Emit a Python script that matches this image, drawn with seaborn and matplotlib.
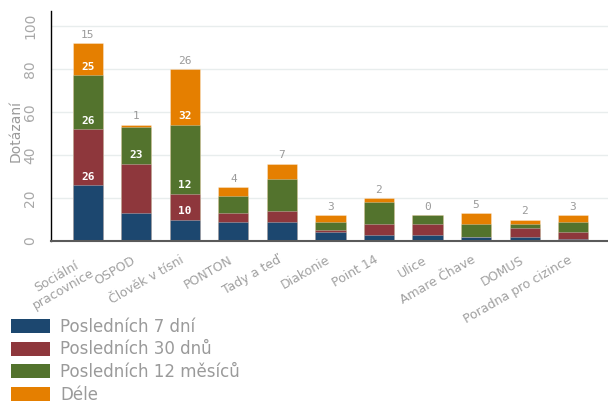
import numpy as np
import pandas as pd
import matplotlib
matplotlib.use("Agg")
import matplotlib.pyplot as plt
import matplotlib.transforms as mtransforms
from matplotlib.patches import Patch
import seaborn as sns

# ---------------- data ----------------
categories = ["Sociální\npracovnice", "OSPOD", "Člověk v tísni", "PONTON", "Tady a teď",
              "Diakonie", "Point 14", "Ulice", "Amare Čhave", "DOMUS", "Poradna pro cizince"]
series_names = ["Posledních 7 dní", "Posledních 30 dnů", "Posledních 12 měsíců", "Déle"]
last_7_days = [26, 13, 10, 9, 9, 4, 3, 3, 2, 2, 1]
last_30_days = [26, 23, 12, 4, 5, 1, 5, 5, 0, 4, 3]
last_12_months = [25, 17, 32, 8, 15, 4, 10, 4, 6, 2, 5]
longer = [15, 1, 26, 4, 7, 3, 2, 0, 5, 2, 3]
# which segment values are printed (inner labels sit just above their segment)
show_7 = [True, False, True, False, False, False, False, False, False, False, False]
show_30 = [True, True, True, False, False, False, False, False, False, False, False]
show_12 = [True, False, True, False, False, False, False, False, False, False, False]
show_longer = [True] * 11
y_ticks = [0, 20, 40, 60, 80, 100]
y_title = "Dotázaní"

colors = ["#1c476f", "#8e373c", "#53732d", "#e57f00"]
grey = "#9a9a9a"

series = [last_7_days, last_30_days, last_12_months, longer]
shows = [show_7, show_30, show_12, show_longer]
cum = np.cumsum(np.array(series), axis=0)

sns.set_theme(style="white")
plt.rcParams['font.family'] = ['DejaVu Sans']

fig = plt.figure(figsize=(6.08, 4.01), dpi=100)
W, H = 608, 401
ax = fig.add_axes([51 / W, 1 - 241 / H, (W - 51) / W, (241 - 11) / H])

# draw from the top (cumulative) down so every segment shows
for i in range(3, -1, -1):
    df = pd.DataFrame({"cat": categories, "val": cum[i]})
    sns.barplot(data=df, x="cat", y="val", order=categories, color=colors[i],
                saturation=1, width=0.62, ax=ax, zorder=3,
                edgecolor=(1, 1, 1, 0.35), linewidth=0.6)

# labels: containers are in order orange, green, red, blue
for k, i in enumerate(range(3, -1, -1)):
    cont = ax.containers[k]
    labs = [str(v) if s else "" for v, s in zip(series[i], shows[i])]
    if i == 3:
        ax.bar_label(cont, labels=labs, padding=2.5, color=grey, fontsize=8,
                     family="DejaVu Sans Mono")
    else:
        ax.bar_label(cont, labels=labs, padding=2.5, color="white", fontsize=8,
                     family="DejaVu Sans Mono", fontweight="bold", zorder=5)

ax.set_xlim(-0.76, 10.72)
ax.set_ylim(0, 107)
ax.set_yticks(y_ticks)
ax.set_yticklabels([str(t) for t in y_ticks], rotation=90, va="center",
                   color="#a8a8a8", fontsize=10)
ax.tick_params(axis="y", length=0, pad=10)
ax.tick_params(axis="x", length=0, pad=9)
ax.yaxis.grid(True, color="#e8eded", linewidth=1, zorder=0)
ax.xaxis.grid(False)
ax.set_axisbelow(True)
ax.set_xlabel("")
ax.set_ylabel(y_title, color=grey, fontsize=10, va="center")
ax.yaxis.set_label_coords(-0.063, 0.48)

for s in ["top", "right"]:
    ax.spines[s].set_visible(False)
ax.spines["left"].set_color("black")
ax.spines["left"].set_linewidth(1)
ax.spines["bottom"].set_color("#5a5a5a")
ax.spines["bottom"].set_linewidth(1.5)
ax.spines["bottom"].set_zorder(6)

offset = mtransforms.ScaledTranslation(-5 / 100, 0, fig.dpi_scale_trans)
for lab in ax.get_xticklabels():
    lab.set_rotation(30)
    lab.set_ha("right")
    lab.set_va("top")
    lab.set_rotation_mode("anchor")
    lab.set_multialignment("center")
    lab.set_color("#a0a0a0")
    lab.set_fontsize(9)
    lab.set_transform(lab.get_transform() + offset)

handles = [Patch(facecolor=c, edgecolor="none") for c in colors]
leg = fig.legend(handles, series_names, loc="upper left",
                 bbox_to_anchor=(11 / W, 1 - 318 / H), frameon=False,
                 fontsize=12, handlelength=2.35, handleheight=0.9,
                 handletextpad=0.6, labelspacing=0.27, borderpad=0,
                 borderaxespad=0)
for t in leg.get_texts():
    t.set_color(grey)

fig.savefig("out.png", dpi=100)
